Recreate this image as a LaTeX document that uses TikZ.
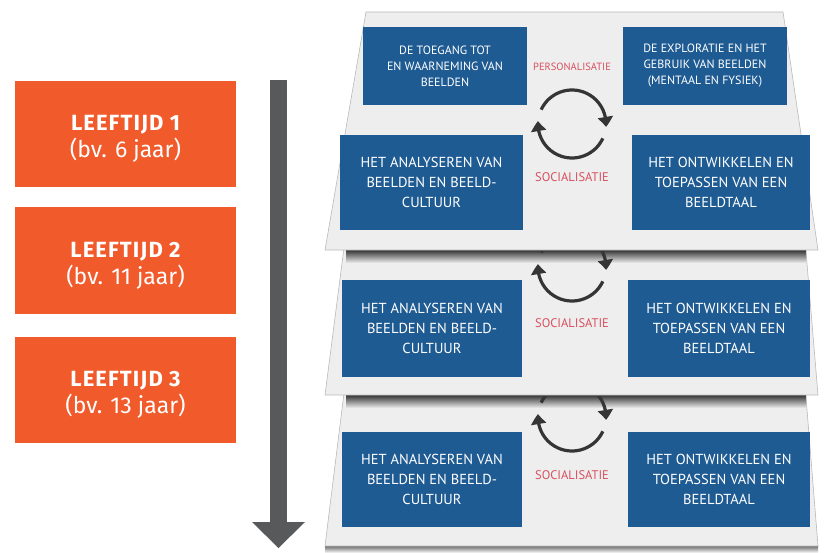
\documentclass[tikz,border=0pt]{standalone}
\usepackage{fontspec}
\setmainfont{Fira Sans}
\newfontfamily\agefont{Fira Sans}[LetterSpace=5]
\newfontfamily\boxfont{PT Sans}
\usetikzlibrary{arrows.meta,bending}
\definecolor{ageorange}{HTML}{F15A2B}
\definecolor{timegray}{HTML}{58595B}
\definecolor{boxblue}{HTML}{1F5B93}
\definecolor{sheetgray}{HTML}{EEEEEE}
\definecolor{cyclegray}{HTML}{353535}
\definecolor{labelred}{HTML}{D8505F}
\newcommand\agetext[2]{\raisebox{-5pt}[\height][\depth]{\agefont\bfseries\fontsize{22}{27}\selectfont #1}\\
  \raisebox{-5pt}[\height][\depth]{#2}}

\begin{document}
\begin{tikzpicture}[x=1pt, y=-1pt,
    agebox/.style={fill=ageorange, text=white, minimum width=221pt, minimum height=106pt,
      inner sep=0pt, align=center, font=\fontsize{23}{27}\selectfont},
    sheet/.style={fill=sheetgray, draw=gray!55, line width=0.6pt},
    skillbox/.style={fill=boxblue, text=white, inner sep=0pt, align=center,
      font=\boxfont\fontsize{14.5}{20}\selectfont},
    smallbox/.style={skillbox, font=\boxfont\fontsize{12}{16}\selectfont},
    phase/.style={text=labelred, font=\boxfont\fontsize{12.5}{14}\selectfont},
    turn/.style={draw=cyclegray, line width=3.2pt, -{Triangle[width=15pt,length=10pt,bend]}}]

      \useasboundingbox (0,0) rectangle (826,553);

      % ages
      \node[agebox] (age1) at (125.5,134) {\agetext{LEEFTIJD 1}{(bv. 6 jaar)}};
      \node[agebox] (age2) at (125.5,260.5) {\agetext{LEEFTIJD 2}{(bv. 11 jaar)}};
      \node[agebox] (age3) at (125.5,390) {\agetext{LEEFTIJD 3}{(bv. 13 jaar)}};

      % time arrow
      \fill[timegray] (270,80) rectangle (287,524);
      \fill[timegray] (252,522) -- (305,522) -- (278.5,548) -- cycle;

      % bottom sheet
      \shade[top color=black!65, bottom color=white] (325,545) rectangle (818,553);
      \draw[sheet] (345,385) -- (805,385) -- (818,546) -- (325,546) -- cycle;
      \shade[top color=black!80, bottom color=sheetgray] (346,395) rectangle (806,408);
      \draw[turn] (572,417) ++(25:34) arc[start angle=25, end angle=185, radius=34];
      \draw[turn] (572,417) ++(205:34) arc[start angle=205, end angle=365, radius=34];
      \node[skillbox, minimum width=180pt, minimum height=95pt] (analyse3) at (432,479.5)
        {HET ANALYSEREN VAN\\BEELDEN EN BEELD-\\CULTUUR};
      \node[skillbox, minimum width=182pt, minimum height=95pt] (develop3) at (719,479.5)
        {HET ONTWIKKELEN EN\\TOEPASSEN VAN EEN\\BEELDTAAL};
      \node[phase] (social3) at (572,475) {SOCIALISATIE};

      % middle sheet
      \draw[sheet] (345,240) -- (805,240) -- (818,395) -- (325,395) -- cycle;
      \shade[top color=black!80, bottom color=sheetgray] (346,250) rectangle (806,263);
      \draw[turn] (572,267) ++(25:34) arc[start angle=25, end angle=185, radius=34];
      \draw[turn] (572,267) ++(205:34) arc[start angle=205, end angle=365, radius=34];
      \node[skillbox, minimum width=180pt, minimum height=97pt] (analyse2) at (432,328.5)
        {HET ANALYSEREN VAN\\BEELDEN EN BEELD-\\CULTUUR};
      \node[skillbox, minimum width=182pt, minimum height=97pt] (develop2) at (719,328.5)
        {HET ONTWIKKELEN EN\\TOEPASSEN VAN EEN\\BEELDTAAL};
      \node[phase] (social2) at (572,323) {SOCIALISATIE};

      % top sheet
      \draw[sheet] (366,12) -- (783,12) -- (818,250) -- (325,250) -- cycle;
      \draw[turn] (572,124) ++(25:34) arc[start angle=25, end angle=185, radius=34];
      \draw[turn] (572,124) ++(205:34) arc[start angle=205, end angle=365, radius=34];
      \node[smallbox, minimum width=164pt, minimum height=78pt] (access) at (445,66)
        {DE TOEGANG TOT\\EN WAARNEMING VAN\\BEELDEN};
      \node[smallbox, minimum width=164pt, minimum height=78pt] (explore) at (705,66)
        {DE EXPLORATIE EN HET\\GEBRUIK VAN BEELDEN\\(MENTAAL EN FYSIEK)};
      \node[skillbox, minimum width=183pt, minimum height=95pt] (analyse1) at (431.5,182.5)
        {HET ANALYSEREN VAN\\BEELDEN EN BEELD-\\CULTUUR};
      \node[skillbox, minimum width=178pt, minimum height=95pt] (develop1) at (721,182.5)
        {HET ONTWIKKELEN EN\\TOEPASSEN VAN EEN\\BEELDTAAL};
      \node[phase, font=\boxfont\fontsize{10.5}{12}\selectfont] (personal) at (572,67) {PERSONALISATIE};
      \node[phase] (social1) at (572,177) {SOCIALISATIE};

    \end{tikzpicture}
\end{document}
